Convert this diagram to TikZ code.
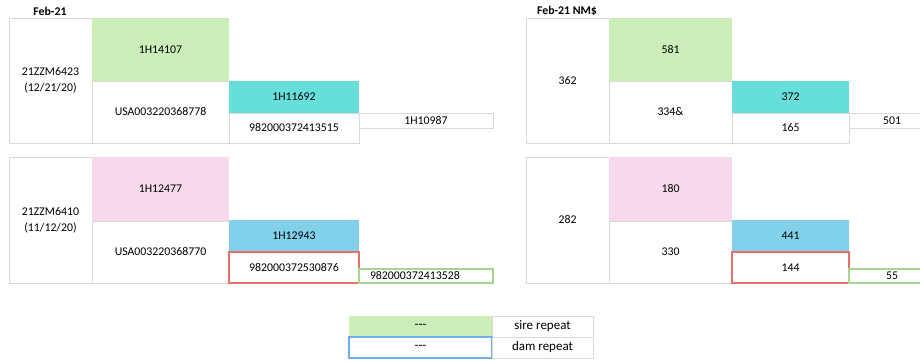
\documentclass[tikz,border=0pt]{standalone}
\usepackage{fontspec}
\setmainfont{Carlito}
\definecolor{sgreen}{HTML}{CBEDB7}
\definecolor{scyan}{HTML}{66DED9}
\definecolor{spink}{HTML}{F8D9EB}
\definecolor{sblue}{HTML}{82D1EB}
\definecolor{sred}{HTML}{E8726B}
\definecolor{sgreenline}{HTML}{A9D68C}
\definecolor{sblueline}{HTML}{70ADF0}
\definecolor{sgray}{HTML}{D9D9D9}
\newcommand{\cellfont}{\fontsize{11.8}{16}\selectfont}
\newcommand{\legfont}{\fontsize{13}{15}\selectfont}
% \cellbox{name}{style}{x1}{y1}{x2}{y2}{text}
\newcommand{\cellbox}[7]{%
  \pgfmathsetmacro{\cbx}{(#3+#5)/2}%
  \pgfmathsetmacro{\cby}{(#4+#6)/2}%
  \pgfmathsetmacro{\cbw}{#5-#3}%
  \pgfmathsetmacro{\cbh}{#6-#4}%
  \node[#2, minimum width=\cbw pt, minimum height=\cbh pt] (#1) at (\cbx,\cby) {#7};}
\begin{document}
\begin{tikzpicture}[x=1pt,y=-1pt,
  every node/.style={font=\cellfont, text=black},
  base/.style={inner sep=0pt, outer sep=0pt, anchor=center},
  cell/.style={base, draw=sgray, line width=0.9pt},
  fillcell/.style={base, fill=#1},
  redcell/.style={base, draw=sred, line width=1.1pt},
  greencell/.style={base, draw=sgreenline, line width=1.1pt},
  bluecell/.style={base, draw=sblueline, line width=1.1pt},
  twoline/.style={align=center},
  title/.style={font=\cellfont\bfseries}]
\useasboundingbox (0,0) rectangle (920,360);
\clip (0,0) rectangle (920,360);
\fill[white] (0,0) rectangle (920,360);

% titles
\node[title] (t1) at (50,11) {Feb-21};
\node[title] (t2) at (567,11) {Feb-21 NM\$};

% top-left panel
\cellbox{a0}{cell, twoline}{9}{18}{92}{143}{21ZZM6423\\(12/21/20)}
\cellbox{a1}{fillcell=sgreen}{92}{18}{229}{81}{1H14107}
\cellbox{a2}{cell}{92}{81}{229}{143}{USA003220368778}
\cellbox{a3}{fillcell=scyan}{229}{81}{359}{113}{1H11692}
\cellbox{a4}{cell}{229}{113}{359}{143}{982000372413515}
\cellbox{a5}{cell}{359}{113}{493}{128}{1H10987}

% bottom-left panel
\cellbox{b0}{cell, twoline}{9}{157}{92}{283}{21ZZM6410\\(11/12/20)}
\cellbox{b1}{fillcell=spink}{92}{157}{229}{221}{1H12477}
\cellbox{b2}{cell}{92}{221}{229}{283}{USA003220368770}
\cellbox{b3}{fillcell=sblue}{229}{220}{359}{252}{1H12943}
\cellbox{b4}{redcell}{229}{252}{359}{283}{982000372530876}
\cellbox{b5}{greencell}{359}{269}{493}{283}{}
\node[base, anchor=west] (b5t) at ([xshift=11pt]b5.west) {982000372413528};

% top-right panel
\cellbox{c0}{cell}{526}{18}{609}{143}{362}
\cellbox{c1}{fillcell=sgreen}{609}{18}{732}{81}{581}
\cellbox{c2}{cell}{609}{81}{732}{143}{334\&}
\cellbox{c3}{fillcell=scyan}{732}{81}{849}{113}{372}
\cellbox{c4}{cell}{732}{113}{849}{143}{165}
\cellbox{c5}{cell}{849}{113}{935}{128}{501}

% bottom-right panel
\cellbox{d0}{cell}{526}{157}{609}{283}{282}
\cellbox{d1}{fillcell=spink}{609}{157}{732}{221}{180}
\cellbox{d2}{cell}{609}{221}{732}{283}{330}
\cellbox{d3}{fillcell=sblue}{732}{220}{849}{252}{441}
\cellbox{d4}{redcell}{732}{252}{849}{283}{144}
\cellbox{d5}{greencell}{849}{269}{935}{283}{55}

% legend
\cellbox{e1}{fillcell=sgreen, font=\legfont}{349}{316}{492}{337}{-{}-{}-}
\cellbox{e2}{cell, font=\legfont}{492}{316}{593}{337}{sire repeat}
\cellbox{e3}{bluecell, font=\legfont}{349}{337}{492}{358}{-{}-{}-}
\cellbox{e4}{cell, font=\legfont}{492}{337}{593}{358}{dam repeat}
\end{tikzpicture}
\end{document}
